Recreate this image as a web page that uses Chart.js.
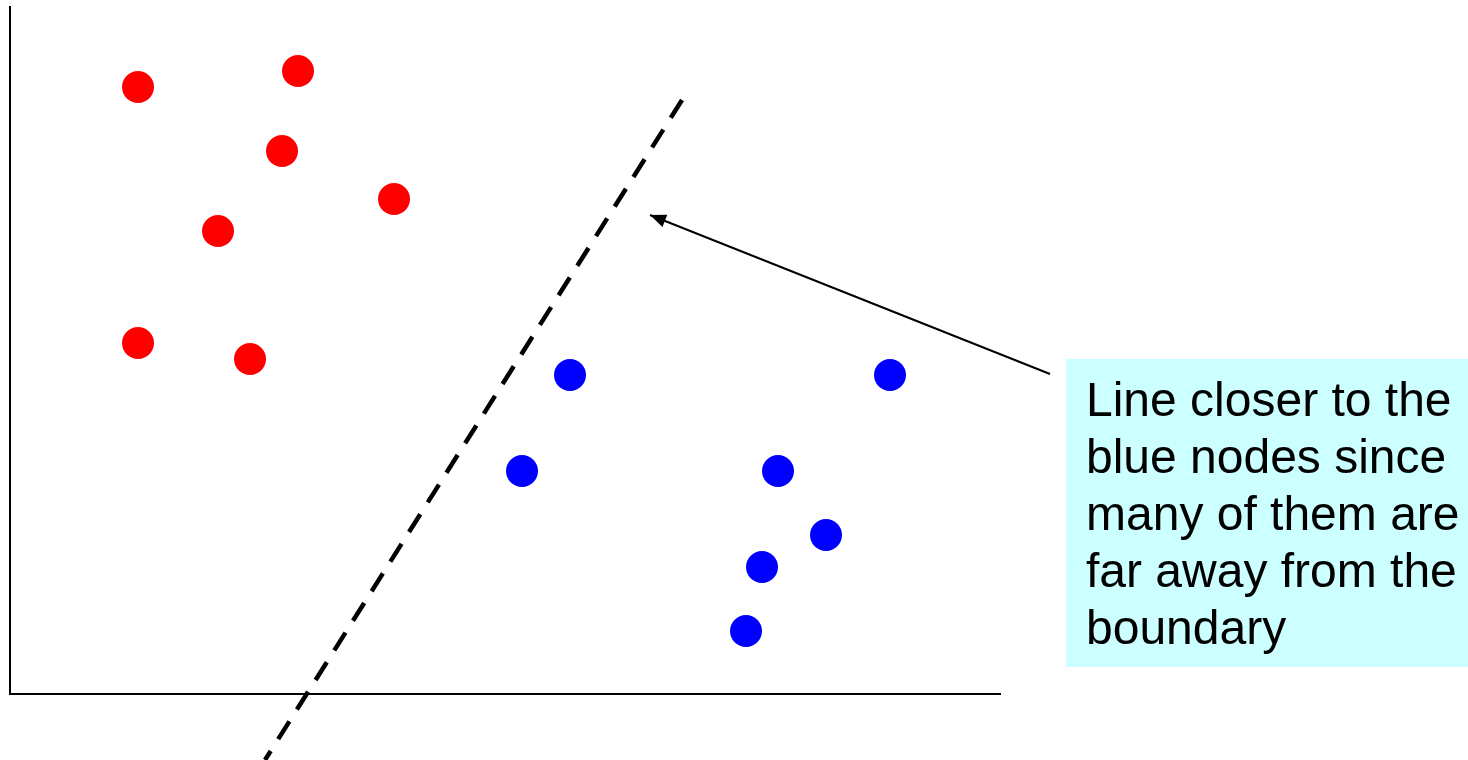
<!DOCTYPE html>
<html>
<head>
<meta charset="utf-8">
<script src="https://cdn.jsdelivr.net/npm/chart.js@4/dist/chart.umd.min.js"></script>
<style>
  html, body { margin: 0; padding: 0; background: #fff; }
  #wrap { width: 1468px; height: 760px; }
</style>
</head>
<body>
<div id="wrap"><canvas id="svm-chart"></canvas></div>
<script>
// points (1 unit = 10px)
const redX = [12.8, 28.8, 27.2, 38.4, 20.8, 12.8, 24.0];
const redY = [60.7, 62.3, 54.3, 49.5, 46.3, 35.1, 33.5];
const blueX = [56.0, 88.0, 51.2, 76.8, 81.6, 75.2, 73.6];
const blueY = [31.9, 31.9, 22.3, 22.3, 15.9, 12.7, 6.3];

// dashed boundary, from top end to bottom end
const boundaryX = [67.2, 25.5];
const boundaryY = [59.4, -6.6];

// arrow: tail (by the note) to tip (by the boundary)
const arrowX = [104.0, 64.0];
const arrowY = [32.0, 47.9];

const noteLines = ["Line closer to the", "blue nodes since", "many of them are", "far away from the", "boundary"];

const toPts = (xs, ys) => xs.map((x, i) => ({ x: x, y: ys[i] }));

const notePlugin = {
  id: 'note',
  afterDraw(chart) {
    const ctx = chart.ctx;
    const sx = chart.scales.x, sy = chart.scales.y;
    // arrow head
    const x1 = sx.getPixelForValue(arrowX[0]), y1 = sy.getPixelForValue(arrowY[0]);
    const x2 = sx.getPixelForValue(arrowX[1]), y2 = sy.getPixelForValue(arrowY[1]);
    const a = Math.atan2(y2 - y1, x2 - x1);
    const len = 16, half = 6.5;
    ctx.save();
    ctx.fillStyle = '#000';
    ctx.beginPath();
    ctx.moveTo(x2, y2);
    ctx.lineTo(x2 - len * Math.cos(a) + half * Math.sin(a), y2 - len * Math.sin(a) - half * Math.cos(a));
    ctx.lineTo(x2 - len * Math.cos(a) - half * Math.sin(a), y2 - len * Math.sin(a) + half * Math.cos(a));
    ctx.closePath();
    ctx.fill();

    // note box
    ctx.fillStyle = '#ccffff';
    ctx.fillRect(1066, 359, 402, 308);
    ctx.fillStyle = '#000';
    ctx.font = '48px "Liberation Sans", Arial, sans-serif';
    ctx.textAlign = 'left';
    ctx.textBaseline = 'alphabetic';
    noteLines.forEach((t, i) => ctx.fillText(t, 1086, 416 + i * 57));
    ctx.restore();
  }
};

new Chart(document.getElementById('svm-chart'), {
  type: 'scatter',
  data: {
    datasets: [
      {
        label: 'red',
        data: toPts(redX, redY),
        backgroundColor: '#ff0000',
        borderWidth: 0,
        pointRadius: 16,
        pointHoverRadius: 16
      },
      {
        label: 'blue',
        data: toPts(blueX, blueY),
        backgroundColor: '#0000ff',
        borderWidth: 0,
        pointRadius: 16,
        pointHoverRadius: 16
      },
      {
        label: 'boundary',
        type: 'line',
        data: toPts(boundaryX, boundaryY),
        borderColor: '#000',
        borderWidth: 4.5,
        borderDash: [21, 14],
        pointRadius: 0,
        clip: false
      },
      {
        label: 'arrow',
        type: 'line',
        data: toPts(arrowX, arrowY),
        borderColor: '#000',
        borderWidth: 2,
        pointRadius: 0,
        clip: false
      }
    ]
  },
  options: {
    responsive: true,
    maintainAspectRatio: false,
    animation: false,
    events: [],
    layout: { autoPadding: false, padding: { left: 10, top: 7, right: 468, bottom: 66 } },
    plugins: {
      legend: { display: false },
      tooltip: { enabled: false },
      title: { display: false }
    },
    scales: {
      x: {
        type: 'linear',
        min: 0, max: 99,
        grid: { display: false, drawTicks: false },
        ticks: { display: false },
        border: { display: true, color: '#000', width: 2 }
      },
      y: {
        type: 'linear',
        min: 0, max: 68.7,
        grid: { display: false, drawTicks: false },
        ticks: { display: false },
        border: { display: true, color: '#000', width: 2 }
      }
    }
  },
  plugins: [notePlugin]
});
</script>
</body>
</html>
